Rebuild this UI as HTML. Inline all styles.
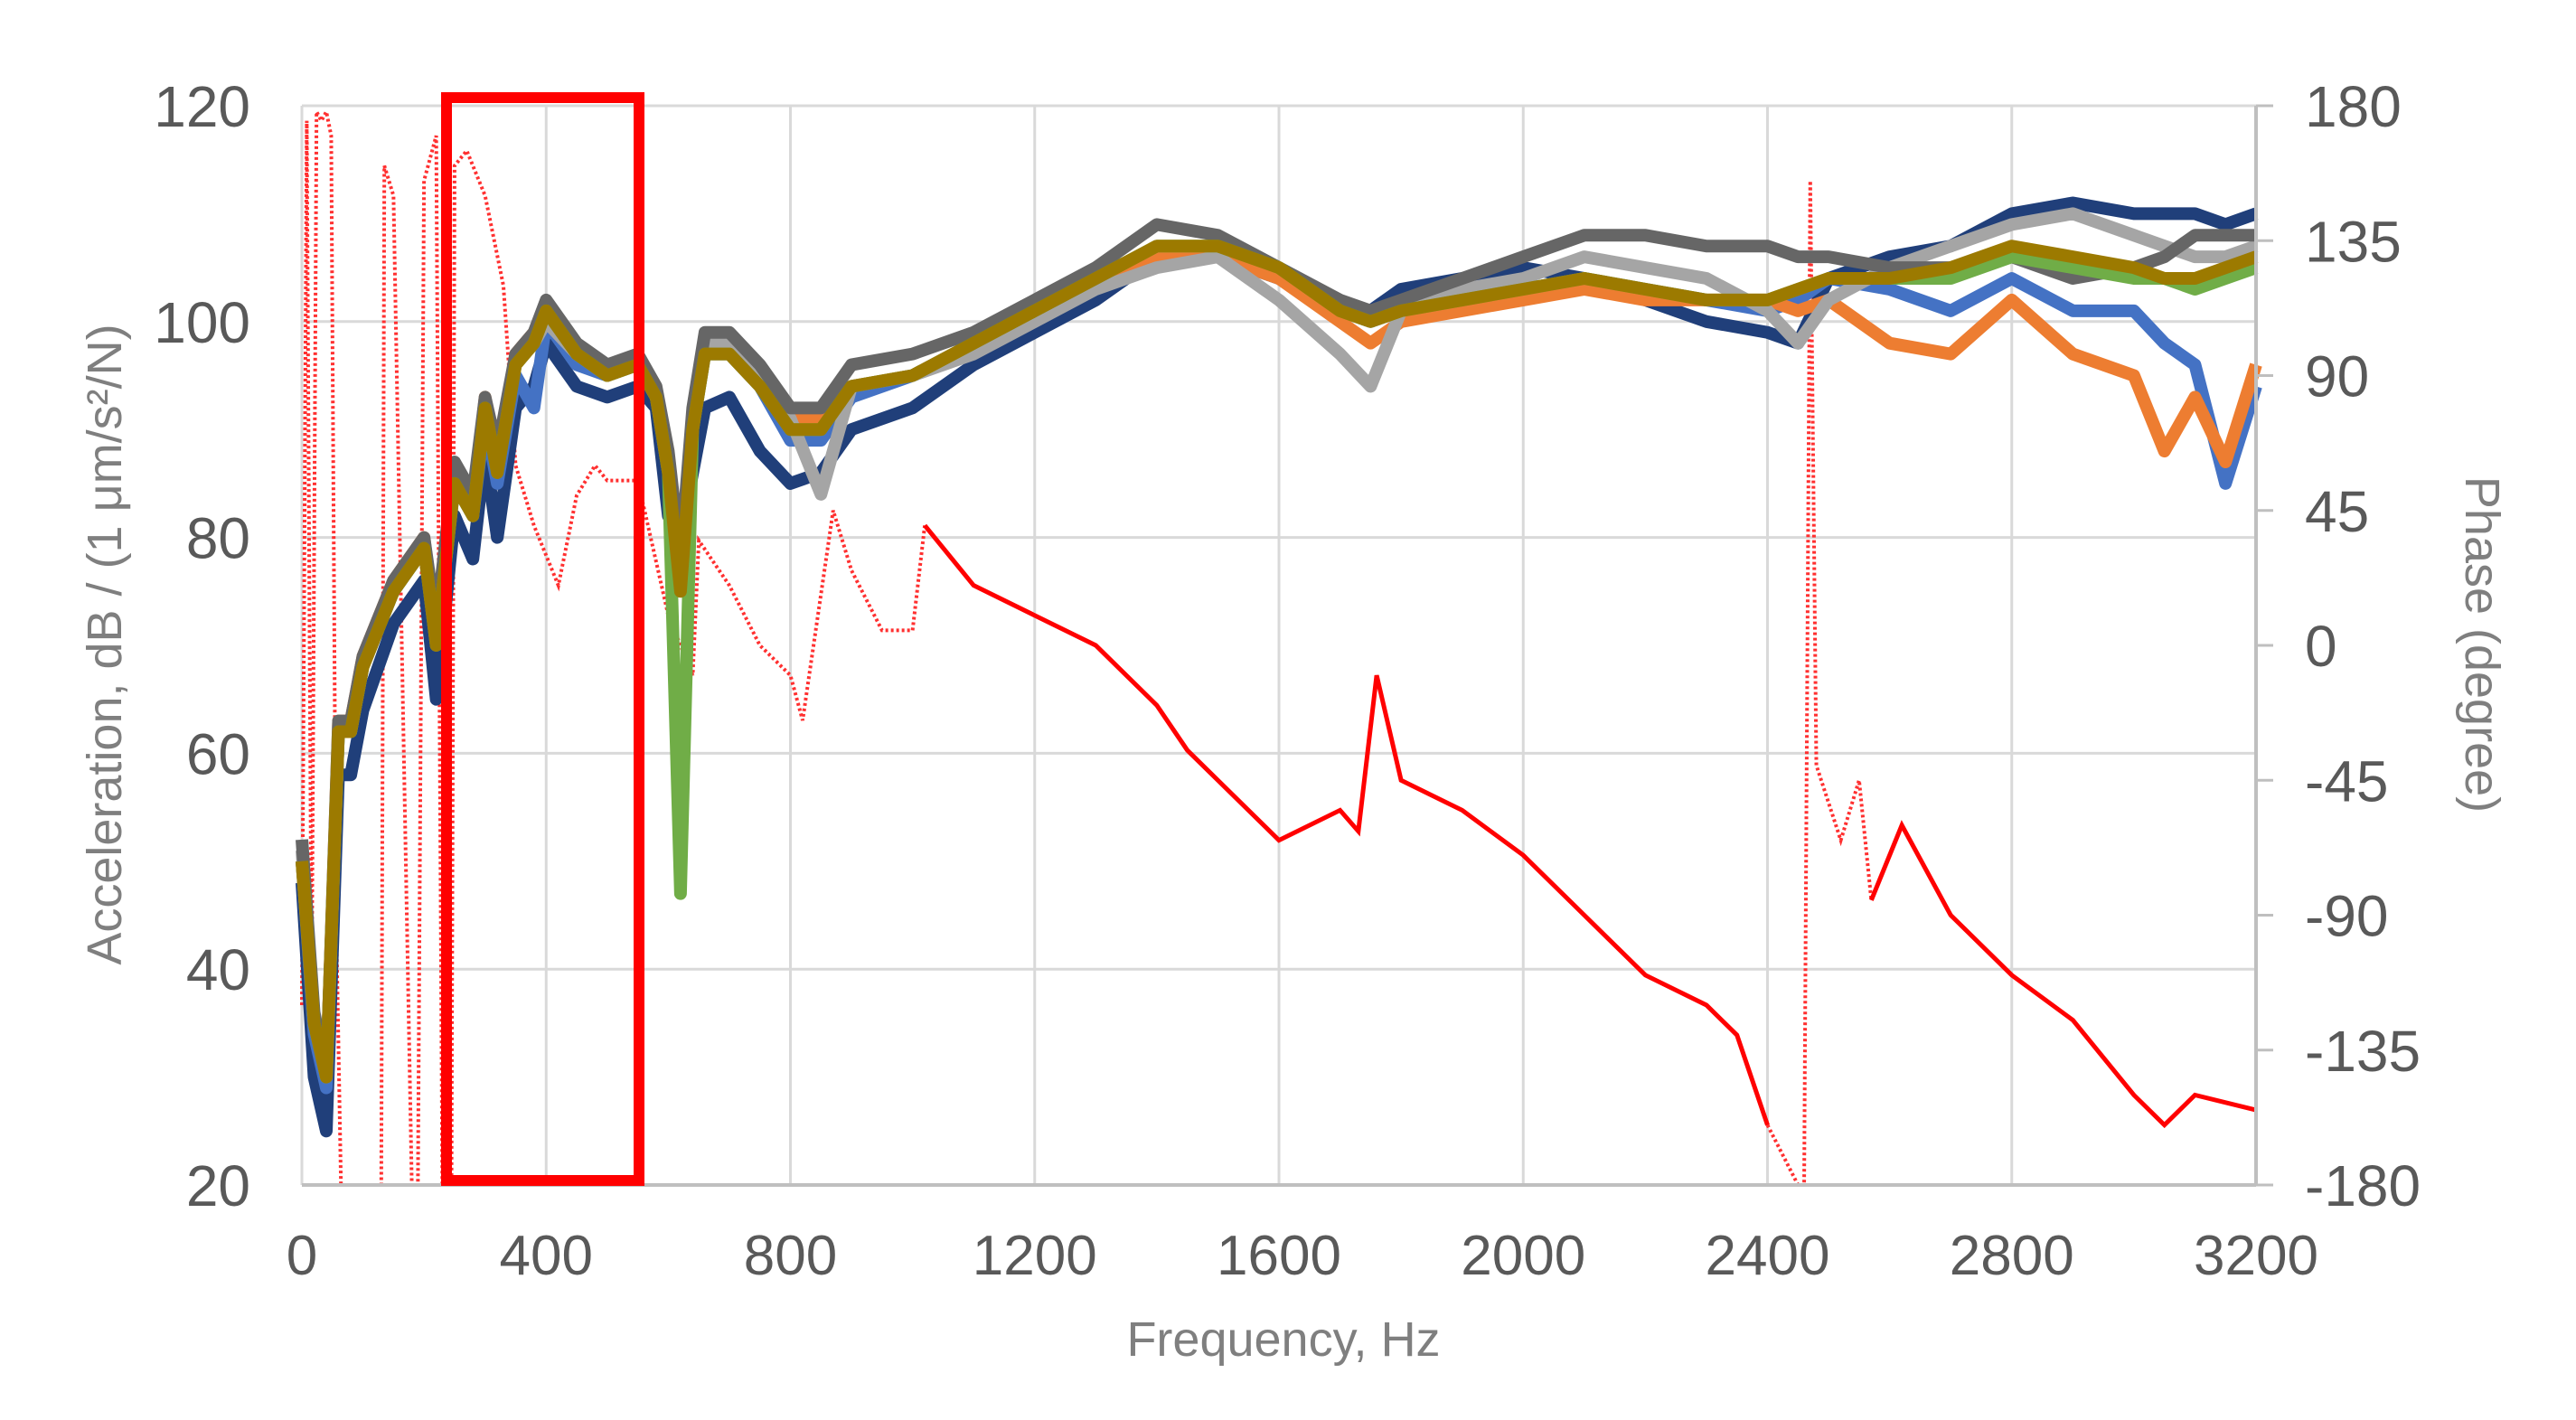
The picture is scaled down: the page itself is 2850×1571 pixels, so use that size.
<!DOCTYPE html>
<html><head><meta charset="utf-8"><style>
html,body{margin:0;padding:0;background:#fff;}
svg{display:block;font-family:"Liberation Sans",sans-serif;}
</style></head><body>
<svg id="chart" width="2850" height="1571" viewBox="0 0 2850 1571" xmlns="http://www.w3.org/2000/svg">
<g id="grid"></g>
<g id="series"></g>
<g id="axes"></g>
<rect x="494" y="108" width="213" height="1198" fill="none" stroke="#ff0000" stroke-width="12"/>
<text x="1420" y="1500" font-size="54" fill="#7f7f7f" text-anchor="middle">Frequency, Hz</text>
<text transform="translate(134,713) rotate(-90)" font-size="54" fill="#7f7f7f" text-anchor="middle">Acceleration, dB / (1 μm/s²/N)</text>
<text transform="translate(2728,713) rotate(90)" font-size="54" fill="#7f7f7f" text-anchor="middle">Phase (degree)</text>
</svg>
<script>
const xTicks=[0,400,800,1200,1600,2000,2400,2800,3200];
const yTicks=[20,40,60,80,100,120];
const phTicks=[180,135,90,45,0,-45,-90,-135,-180];
const freq=[0,20,40,60,80,100,150,200,220,250,280,300,320,350,380,400,450,500,550,580,600,620,640,660,700,750,800,850,900,1000,1100,1200,1300,1400,1500,1600,1700,1750,1800,1900,2000,2100,2200,2300,2400,2450,2500,2600,2700,2800,2900,3000,3050,3100,3150,3200];
const gold=[50,35,30,62,62,68,75,79,70,85,82,92,86,96,98,101,97,95,96,93,86,75,90,97,97,94,90,90,94,95,98,101,104,107,107,105,101,100,101,102,103,104,103,102,102,103,104,104,105,107,106,105,104,104,105,106];
const green=[50,35,30,62,62,68,75,79,70,85,82,92,86,96,98,101,97,95,96,93,86,47,90,97,97,94,90,90,94,95,98,101,104,107,107,105,101,100,101,102,103,104,103,102,102,103,104,104,104,106,105,104,104,103,104,105];
const navy=[48,30,25,58,58,64,72,76,65,82,78,88,80,92,94,98,94,93,94,92,82,80,86,92,93,88,85,86,90,92,96,99,102,106,106,104,101,101,103,104,105,104,102,100,99,98,104,106,107,110,111,110,110,110,109,110];
const dgray=[52,36,30,63,63,69,76,80,72,87,84,93,88,97,99,102,98,96,97,94,88,78,92,99,99,96,92,92,96,97,99,102,105,109,108,105,102,101,102,104,106,108,108,107,107,106,106,105,105,106,104,105,106,108,108,108];
const lgray=[51,35,30,62,62,68,76,79,71,86,83,92,87,96,98,100,97,95,96,93,87,77,91,98,98,95,91,84,94,95,97,100,103,105,106,102,97,94,101,103,104,106,105,104,101,98,102,105,107,109,110,108,107,106,106,107];
const blue=[50,34,29,62,62,68,75,79,70,85,82,91,85,95,92,100,96,95,96,93,86,76,90,97,97,94,89,89,93,95,98,101,104,106,106,104,101,100,101,102,103,104,103,102,101,102,104,103,101,104,101,101,98,96,85,94];
const orange=[50,35,30,63,63,69,76,80,71,86,83,93,87,97,99,101,97,96,96,93,87,76,91,98,98,95,91,91,94,95,98,101,104,106,106,104,100,98,100,101,102,103,102,102,102,101,102,98,97,102,97,95,88,93,87,96];
const phFreq=[0,8,16,24,32,40,48,56,64,130,135,150,180,190,200,220,230,245,250,270,300,330,350,380,400,420,450,480,500,550,600,640,650,700,750,800,820,870,900,950,1000,1020,1100,1200,1300,1400,1450,1500,1600,1700,1730,1760,1800,1900,2000,2100,2200,2300,2350,2400,2450,2460,2470,2480,2520,2550,2570,2620,2700,2800,2900,3000,3050,3100,3200];
const phase=[-120,175,-120,178,175,178,170,-90,-180,-180,160,150,-180,-180,155,170,-180,-180,160,165,150,120,60,40,30,20,50,60,55,55,10,-10,35,20,0,-10,-25,45,25,5,5,40,20,10,0,-20,-35,-45,-65,-55,-62,-10,-45,-55,-70,-90,-110,-120,-130,-160,-180,-180,155,-40,-65,-45,-85,-60,-90,-110,-125,-150,-160,-150,-155];

const L=334,R=2496,T=117,B=1311;
const sx=f=>L+(f/3200)*(R-L);
const sy=v=>B-(v-20)/100*(B-T);
const sp=p=>B-(p+180)/360*(B-T);
const NS="http://www.w3.org/2000/svg";
function mk(tag,attrs,parent){const e=document.createElementNS(NS,tag);for(const k in attrs)e.setAttribute(k,attrs[k]);parent.appendChild(e);return e;}
const grid=document.getElementById('grid'),axes=document.getElementById('axes'),ser=document.getElementById('series');
xTicks.forEach(t=>{
  const g=mk('line',{x1:sx(t),x2:sx(t),y1:T,y2:B,stroke:'#d9d9d9','stroke-width':3},grid);
  
  
  const tx=mk('text',{x:sx(t),y:1410,'font-size':62,fill:'#595959','text-anchor':'middle'},axes);
  tx.textContent=t;
  
  
});
yTicks.forEach(t=>{
  const g=mk('line',{x1:L,x2:R,y1:sy(t),y2:sy(t),stroke:'#d9d9d9','stroke-width':3},grid);
  
  
  const tx=mk('text',{x:277,y:sy(t)+23,'font-size':64,fill:'#595959','text-anchor':'end'},axes);
  tx.textContent=t;
  
  
});
phTicks.forEach(t=>{
  const tk=mk('line',{x1:R,x2:2515,y1:sp(t),y2:sp(t),stroke:'#bfbfbf','stroke-width':3},axes);
  
  
  const tx=mk('text',{x:2550,y:sp(t)+23,'font-size':64,fill:'#595959','text-anchor':'start'},axes);
  tx.textContent=t;
  
  
});
const ax1=mk('line',{x1:L,x2:R,y1:B,y2:B,stroke:'#bfbfbf','stroke-width':4},axes);


const ax2=mk('line',{x1:R,x2:R,y1:T,y2:B,stroke:'#bfbfbf','stroke-width':4},axes);



function phPath(filter){let d='',pen=false;
  for(let i=0;i<phFreq.length;i++){
    const ok=i>0&&filter(phFreq[i-1],phFreq[i]);
    if(ok){ if(!pen){d+='M'+sx(phFreq[i-1])+','+sp(phase[i-1]);} d+='L'+sx(phFreq[i])+','+sp(phase[i]); pen=true;}
    else pen=false;}
  return d;}
const dotted=f=>(f<1020)||(f>=2380&&f<2560);
const pd=mk('path',{d:phPath((a,b)=>dotted(a)),fill:'none',stroke:'#ff3030','stroke-width':4,'stroke-dasharray':'3 3'},ser);


const ps=mk('path',{d:phPath((a,b)=>!dotted(a)),fill:'none',stroke:'#ff0000','stroke-width':5},ser);



const list=[['navy',navy,'#203f7a'],['blue',blue,'#4472c4'],['orange',orange,'#ed7d31'],['light-gray',lgray,'#a5a5a5'],['dark-gray',dgray,'#666666'],['green',green,'#70ad47'],['gold',gold,'#9c7a00']];
list.forEach(([n,vals,c])=>{
  const d=vals.map((v,i)=>(i?'L':'M')+sx(freq[i])+','+sy(v)).join('');
  const p=mk('path',{d:d,fill:'none',stroke:c,'stroke-width':14,'stroke-linejoin':'round'},ser);
  
  
});
</script>
</body></html>
